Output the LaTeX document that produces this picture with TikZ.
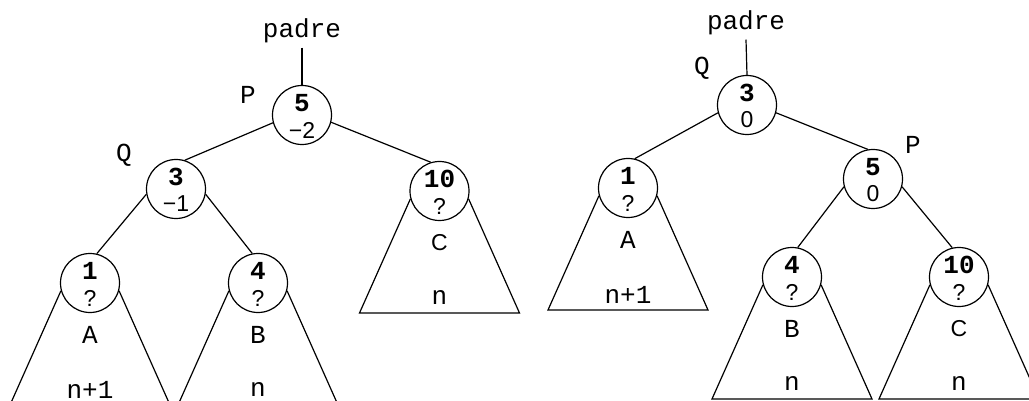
\documentclass[tikz,border=0pt]{standalone}
\usepackage{fontspec}
\setmonofont{Liberation Mono}
\newfontfamily\sansf{Liberation Sans}
\tikzset{
  avl/.style={circle, draw, minimum size=29.5pt, inner sep=0pt, line width=0.6pt},
  keylab/.style={font=\ttfamily\bfseries\fontsize{13}{13}\selectfont, yshift=6pt, inner sep=0pt},
  ballab/.style={font=\sansf\fontsize{11.5}{11.5}\selectfont, yshift=-7.5pt, inner sep=0pt},
  ptr/.style={font=\ttfamily\fontsize{13}{13}\selectfont, inner sep=0pt},
  sanslab/.style={font=\sansf\fontsize{11.5}{11.5}\selectfont, inner sep=0pt},
  edge/.style={line width=0.6pt}
}
\begin{document}
\begin{tikzpicture}[x=0.5pt, y=-0.5pt]
  \clip (0,0) rectangle (1029,401);
  % before the rotation
  \node[ptr, inner sep=2pt] (padreL) at (302,31) {padre};
  \node[avl, label={[keylab]center:5}, label={[ballab]center:−2}] (pL) at (302,115) {};
  \node[avl, label={[keylab]center:3}, label={[ballab]center:−1}] (qL) at (176,189) {};
  \node[avl, label={[keylab]center:10}, label={[ballab]center:?}] (cL) at (439.5,191) {};
  \node[avl, label={[keylab]center:1}, label={[ballab]center:?}] (aL) at (90,283) {};
  \node[avl, label={[keylab]center:4}, label={[ballab]center:?}] (bL) at (258,283) {};
  \node[ptr] (ptrPL) at (248,95) {P};
  \node[ptr] (ptrQL) at (124,155) {Q};
  \draw[edge] (padreL.south) -- (pL.north);
  \draw[edge] (pL.195) -- (qL.73);
  \draw[edge] (pL.346) -- (cL.107);
  \draw[edge] (qL.190) -- (aL.77);
  \draw[edge] (qL.350) -- (bL.101);
  % after the rotation
  \node[ptr, inner sep=2pt] (padreR) at (746,23) {padre};
  \node[avl, label={[keylab]center:3}, label={[ballab]center:0}] (qR) at (747,105) {};
  \node[avl, label={[keylab]center:1}, label={[ballab]center:?}] (aR) at (628,188) {};
  \node[avl, label={[keylab]center:5}, label={[ballab]center:0}] (pR) at (873,179) {};
  \node[avl, label={[keylab]center:4}, label={[ballab]center:?}] (bR) at (792,277) {};
  \node[avl, label={[keylab]center:10}, label={[ballab]center:?}] (cR) at (959,277) {};
  \node[ptr] (ptrQR) at (702,68) {Q};
  \node[ptr] (ptrPR) at (913,145) {P};
  \draw[edge] (padreR.south) -- (qR.north);
  \draw[edge] (qR.195) -- (aR.77);
  \draw[edge] (qR.345) -- (pR.100);
  \draw[edge] (pR.195) -- (bR.79);
  \draw[edge] (pR.345) -- (cR.103);
  % subtrees
  \foreach \n/\lab/\hgt/\st in {aL/A/n+1/ptr, bL/B/n/ptr, cL/C/n/sanslab,
                               aR/A/n+1/ptr, bR/B/n/ptr, cR/C/n/sanslab} {
    \draw[edge] (\n.195) -- ([shift={(-80,122)}]\n.center)
      -- ([shift={(80,122)}]\n.center) -- (\n.345);
    \node[\st] (\n-name) at ([yshift=-26pt]\n.center) {\lab};
    \node[ptr] (\n-hgt) at ([yshift=-53.5pt]\n.center) {\hgt};
  }
\end{tikzpicture}
\end{document}
